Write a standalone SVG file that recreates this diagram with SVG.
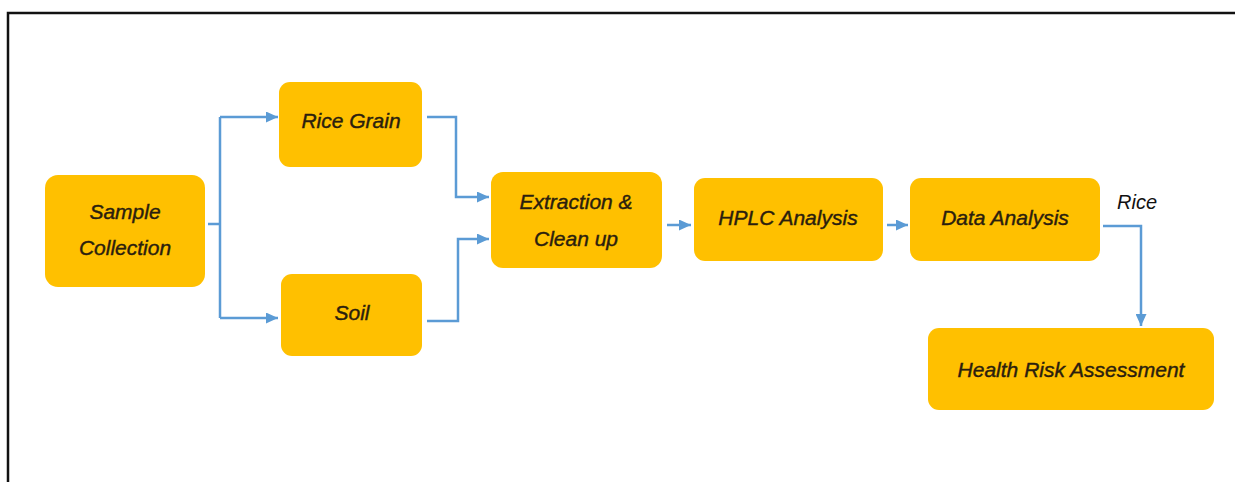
<svg xmlns="http://www.w3.org/2000/svg" width="1235" height="482" viewBox="0 0 1235 482">
<defs>
<marker id="arr" viewBox="0 0 12 11" refX="12" refY="5.5" markerWidth="12" markerHeight="11" markerUnits="userSpaceOnUse" orient="auto">
<path d="M0,0 L12,5.5 L0,11 z" fill="#5B9BD5"/>
</marker>
</defs>
<style>
.box{fill:#FFC000;}
.t{font-family:"Liberation Sans",Arial,sans-serif;font-style:italic;font-size:21px;fill:#2B1E0E;stroke:#2B1E0E;stroke-width:0.4;text-anchor:middle;}
.c{fill:none;stroke:#5B9BD5;stroke-width:2.5;}
.lbl{font-family:"Liberation Sans",Arial,sans-serif;font-style:italic;font-size:20px;fill:#111;}
</style>
<rect x="0" y="0" width="1235" height="482" fill="#fff"/>
<path d="M8,482 V13 H1235" fill="none" stroke="#111" stroke-width="2.5"/>
<g id="sample"><rect class="box" x="45" y="175" width="160" height="112" rx="13"/><text class="t" x="125" y="219">Sample</text><text class="t" x="125" y="255">Collection</text></g>
<g id="rice"><rect class="box" x="279" y="82" width="143" height="85" rx="11"/><text class="t" x="351" y="128">Rice Grain</text></g>
<g id="soil"><rect class="box" x="281" y="274" width="141" height="82" rx="11"/><text class="t" x="352" y="320">Soil</text></g>
<g id="extract"><rect class="box" x="491" y="172" width="171" height="96" rx="12"/><text class="t" x="576" y="209">Extraction &amp;</text><text class="t" x="576" y="246">Clean up</text></g>
<g id="hplc"><rect class="box" x="694" y="178" width="189" height="83" rx="11"/><text class="t" x="788" y="225">HPLC Analysis</text></g>
<g id="data"><rect class="box" x="910" y="178" width="190" height="83" rx="11"/><text class="t" x="1005" y="225">Data Analysis</text></g>
<g id="hra"><rect class="box" x="928" y="328" width="286" height="82" rx="11"/><text class="t" x="1071" y="377">Health Risk Assessment</text></g>
<g id="connectors">
<path class="c" d="M208,224 H220"/>
<path class="c" d="M220,117 V318"/>
<path class="c" d="M220,117 H278" marker-end="url(#arr)"/>
<path class="c" d="M220,318 H278" marker-end="url(#arr)"/>
<path class="c" d="M427,117 H456 V197 H489" marker-end="url(#arr)"/>
<path class="c" d="M427,321 H458 V239 H489" marker-end="url(#arr)"/>
<path class="c" d="M667,225 H691" marker-end="url(#arr)"/>
<path class="c" d="M887,225 H908" marker-end="url(#arr)"/>
<path class="c" d="M1103,226 H1141 V326" marker-end="url(#arr)"/>
<text class="lbl" x="1117" y="209">Rice</text>
</g>
</svg>
